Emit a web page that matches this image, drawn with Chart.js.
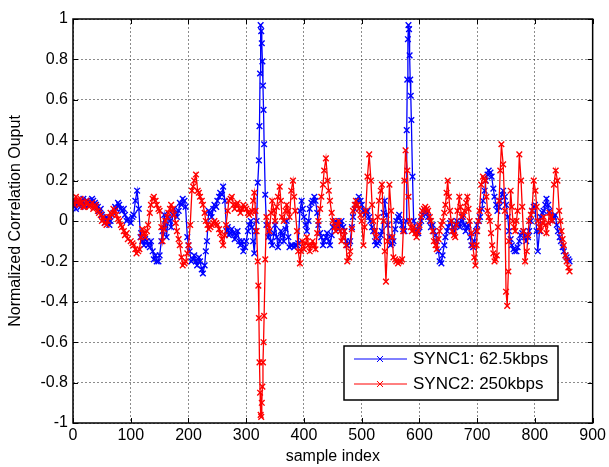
<!DOCTYPE html>
<html>
<head>
<meta charset="utf-8">
<script src="https://cdn.jsdelivr.net/npm/chart.js@4.4.1/dist/chart.umd.min.js"></script>
<style>
  html, body { margin: 0; padding: 0; background: #fff; }
  canvas { display: block; }
</style>
</head>
<body>
<canvas id="chart" width="609" height="467"></canvas>
<script>
// ---------------- data ([sample index, value])

var sync1Label = "SYNC1: 62.5kbps";
var sync2Label = "SYNC2: 250kbps";

var sync1 = [
  [0,0.08],[3,0.1],[5,0.06],[8,0.09],[10,0.09],[13,0.07],[15,0.1],[18,0.11],[20,0.08],[23,0.1],[25,0.1],[28,0.08],[30,0.09],[33,0.11],[35,0.1],[38,0.09],[40,0.08],[43,0.07],[45,0.05],
  [48,0.06],[50,0.03],[53,0.01],[55,-0.01],[58,0.02],[60,0.01],[63,-0.02],[65,0.0],[68,0.03],[70,0.04],[73,0.07],[75,0.06],[78,0.09],[80,0.08],[83,0.06],[85,0.05],[88,0.06],[90,0.03],[93,0.0],[95,0.01],
  [100,-0.01],[103,0.02],[105,0.03],[108,0.1],[111,0.15],[114,0.06],[117,-0.08],[118,-0.06],[120,-0.1],[123,-0.12],[125,-0.09],[128,-0.1],[130,-0.12],[133,-0.13],[135,-0.1],[138,-0.15],
  [140,-0.19],[143,-0.17],[145,-0.2],[148,-0.2],[150,-0.17],[153,-0.1],[155,-0.05],[158,0.03],[160,-0.02],[162,-0.08],[165,0.02],[168,0.0],[170,-0.03],[173,0.03],[175,0.06],[178,0.04],
  [180,0.02],[183,0.05],[185,0.09],[188,0.08],[190,0.11],[193,0.1],[195,0.07],[198,-0.08],[200,-0.12],[202,-0.15],[205,-0.2],[208,-0.19],[210,-0.17],[213,-0.2],[215,-0.22],[218,-0.18],
  [220,-0.2],[223,-0.24],[225,-0.26],[228,-0.22],[230,-0.15],[232,-0.1],[235,0.05],[238,0.04],[240,0.02],[243,0.06],[245,0.08],[248,0.07],[250,0.1],[253,0.12],[255,0.14],[258,0.13],
  [260,0.17],[263,0.1],[266,-0.05],[268,-0.03],[270,-0.07],[273,-0.06],[275,-0.04],[278,-0.06],[280,-0.09],[283,-0.07],[285,-0.05],[288,-0.1],[290,-0.12],[293,-0.1],[295,-0.15],[298,-0.13],
  [300,-0.1],[303,-0.05],[305,-0.02],[308,0.0],[310,-0.03],[312,-0.1],[314,-0.16],[316,-0.05],
  [318,0.0],[320,0.19],[322,0.3],[323,0.47],[324,0.73],[325,0.97],[326,0.94],[327,0.88],[328,0.79],[329,0.67],
  [330,0.55],[331,0.38],[333,0.13],
  [335,-0.02],[338,-0.08],[340,-0.05],[343,-0.1],[345,-0.12],[348,-0.06],[350,-0.02],[353,-0.08],[355,-0.13],[358,-0.1],[360,-0.05],[363,-0.07],[365,-0.1],[368,-0.04],
  [370,0.0],[373,-0.08],[375,-0.13],[378,-0.12],[380,-0.12],[383,-0.13],[385,-0.12],[388,-0.12],[390,-0.11],[393,0.05],[396,0.1],[398,0.06],[400,0.02],[403,-0.02],[405,-0.05],[408,0.0],
  [410,0.06],[413,0.09],[415,0.1],[418,0.12],[420,0.1],[423,0.04],[425,-0.02],[428,-0.06],[430,-0.08],[433,-0.12],[435,-0.1],[438,-0.08],[440,-0.06],[443,-0.1],[445,-0.12],[448,-0.07],
  [450,-0.03],[453,-0.01],[455,0.0],[458,-0.02],[460,-0.04],[463,-0.02],[465,0.0],[468,-0.03],[470,-0.05],[473,-0.1],[475,-0.12],[478,-0.11],[480,-0.1],[483,-0.03],[485,0.02],[488,0.06],
  [490,0.08],[493,0.1],[495,0.12],[498,0.1],[500,0.08],[503,0.05],[505,0.03],[508,0.04],[510,0.05],[513,0.02],[515,0.0],[518,-0.03],[520,-0.05],[523,-0.1],[525,-0.12],[528,-0.11],
  [530,-0.1],[533,-0.07],[535,-0.05],[538,0.04],[540,0.1],[543,0.03],[545,-0.02],[548,-0.08],[550,-0.12],[553,-0.11],[555,-0.1],[558,-0.04],[560,0.0],[563,0.02],[565,0.03],[568,0.0],
  [570,-0.02],[572,-0.04],[574,-0.05],[577,0.0],
  [578,0.45],[579,0.7],[580,0.9],[581,0.97],[582,0.95],[583,0.82],[584,0.7],[585,0.62],[586,0.5],[588,0.22],
  [590,0.0],[593,-0.04],[595,-0.05],[598,-0.06],[600,-0.03],[603,0.0],[605,0.03],[608,0.04],[610,0.05],[613,0.04],[615,0.02],[618,0.0],[620,-0.03],[623,-0.02],[625,-0.05],[628,-0.07],
  [630,-0.1],[633,-0.15],[635,-0.2],[638,-0.21],[640,-0.17],[643,-0.12],[645,-0.08],[648,-0.05],[650,-0.03],[653,-0.01],[655,0.0],[658,-0.03],[660,-0.05],[663,-0.02],[665,0.0],[668,-0.01],
  [670,-0.03],[673,0.0],[675,0.02],[678,-0.02],[680,-0.05],[683,-0.03],[685,-0.02],[688,-0.08],[690,-0.12],[693,-0.13],[695,-0.1],[698,-0.05],[700,-0.02],[703,0.0],[705,0.02],[708,0.06],
  [710,0.1],[713,0.15],[715,0.2],[718,0.23],[720,0.25],[723,0.24],[725,0.22],[728,0.16],[730,0.12],[733,0.08],[735,0.05],[738,0.07],[740,0.1],[743,0.13],[745,0.15],[748,0.12],
  [750,0.08],[753,0.02],[755,-0.05],[758,-0.09],[760,-0.12],[763,-0.14],[765,-0.15],[768,-0.15],[770,-0.13],[773,-0.1],[775,-0.07],[778,-0.06],[780,-0.05],[783,-0.08],[785,-0.1],[788,-0.08],
  [790,-0.05],[793,0.0],[795,0.05],[798,0.07],[800,0.08],[803,-0.05],[805,-0.15],[808,-0.05],[810,0.02],[813,0.04],[815,0.05],[818,0.08],[820,0.11],[823,0.08],[825,0.05],[828,0.02],
  [830,0.0],[833,0.02],[835,0.03],[838,-0.02],[840,-0.05],[843,-0.08],[845,-0.1],[848,-0.13],[850,-0.15],[853,-0.17],[855,-0.18],[858,-0.19],[860,-0.2]
];

var sync2 = [
  [0,0.1],[3,0.08],[5,0.12],[8,0.1],[10,0.08],[13,0.11],[15,0.09],[18,0.07],[20,0.07],[23,0.1],[25,0.09],[28,0.07],[30,0.08],[33,0.09],[35,0.06],[38,0.08],[40,0.07],[43,0.05],[45,0.04],
  [48,0.03],[50,0.0],[53,0.02],[55,-0.01],[58,-0.02],[60,0.0],[63,0.02],[65,0.04],[68,0.03],[70,0.06],[73,0.05],[75,0.03],[78,0.01],[80,0.0],[83,-0.02],[85,-0.03],[88,-0.05],[90,-0.07],[93,-0.06],[95,-0.09],
  [100,-0.1],[103,-0.11],[105,-0.12],[108,-0.14],[110,-0.16],[113,-0.15],[115,-0.14],[118,-0.08],[120,-0.04],[123,-0.06],[125,-0.08],[128,-0.05],[130,-0.02],[133,0.04],[135,0.08],[138,0.11],
  [140,0.12],[143,0.1],[145,0.08],[148,0.06],[150,0.05],[153,-0.03],[155,-0.1],[158,-0.04],[160,0.0],[163,0.02],[165,0.04],[168,0.06],[170,0.08],[173,0.06],[175,0.03],[178,-0.01],
  [180,-0.05],[183,-0.09],[185,-0.12],[188,-0.18],[190,-0.22],[193,-0.21],[195,-0.2],[198,-0.16],[200,-0.12],[203,-0.02],[206,0.15],[208,0.17],[210,0.2],[213,0.23],[216,0.15],[218,0.14],
  [220,0.12],[223,0.1],[225,0.08],[228,0.04],[230,0.0],[233,-0.02],[235,-0.04],[238,-0.03],[240,-0.02],[243,-0.01],[245,0.0],[248,-0.01],[250,-0.02],[253,-0.04],[255,-0.06],[258,-0.09],
  [260,-0.12],[263,-0.07],[265,-0.02],[268,0.05],[270,0.1],[273,0.11],[275,0.12],[278,0.08],[280,0.06],[283,0.08],[285,0.09],[288,0.06],[290,0.04],[293,0.06],[295,0.08],[298,0.07],
  [300,0.06],[303,0.04],[305,0.03],[308,0.04],[310,0.05],[312,0.1],[314,0.14],[316,0.05],
  [318,-0.05],[320,-0.2],[321,-0.32],[322,-0.48],[323,-0.7],[324,-0.85],[325,-0.96],[326,-0.97],[327,-0.9],[328,-0.82],
  [329,-0.7],[330,-0.6],[331,-0.47],[333,-0.19],
  [335,0.02],[338,-0.02],[340,-0.05],[343,0.04],[345,0.1],[348,0.05],[350,0.0],[353,0.07],[355,0.12],[358,0.17],[360,0.1],[362,0.02],[365,0.0],[368,0.05],
  [370,0.08],[373,0.05],[375,0.02],[378,0.15],[381,0.2],[383,0.12],[385,0.05],[388,-0.05],[390,-0.15],[393,-0.21],[395,-0.15],[397,-0.1],[400,-0.14],[403,-0.11],[405,-0.08],[408,-0.12],
  [410,-0.15],[413,-0.12],[415,-0.1],[418,-0.12],[420,-0.14],[423,-0.06],[425,0.0],[428,0.06],[430,0.12],[433,0.18],[435,0.25],[438,0.31],[441,0.2],[443,0.15],[445,0.1],[448,0.04],
  [450,0.0],[453,-0.03],[455,-0.05],[458,-0.02],[460,0.0],[463,-0.05],[465,-0.1],[468,-0.08],[470,-0.05],[473,-0.12],[475,-0.2],[478,-0.18],[480,-0.15],[483,-0.04],[485,0.05],[488,0.08],
  [490,0.1],[493,0.08],[495,0.06],[498,0.03],[500,0.0],[503,-0.12],[505,-0.03],[507,0.05],[510,0.22],[513,0.33],[516,0.2],[518,0.08],[520,0.0],[523,-0.05],[525,-0.08],[528,0.02],
  [530,0.1],[533,0.15],[535,0.18],[538,0.0],[540,-0.15],[542,-0.3],[545,-0.1],[548,0.18],[551,0.05],[553,-0.08],[555,-0.18],[558,-0.19],[560,-0.2],[563,-0.21],[565,-0.2],[568,-0.2],
  [570,-0.19],[572,-0.05],[574,0.2],[576,0.35],[579,0.25],[581,0.12],[583,0.0],[585,-0.03],[587,-0.05],
  [590,-0.03],[593,-0.06],[595,-0.08],[598,-0.05],[600,-0.02],[603,0.02],[605,0.05],[608,0.06],[610,0.07],[613,0.06],[615,0.05],[618,0.02],[620,0.0],[623,-0.05],[625,-0.1],[628,-0.12],
  [630,-0.14],[633,-0.09],[635,-0.05],[638,-0.02],[640,0.0],[643,0.04],[645,0.08],[647,0.14],[649,0.2],[651,0.12],[653,0.05],[655,0.0],[657,-0.05],[660,-0.07],[662,-0.08],[664,-0.02],
  [666,0.05],[669,0.12],[671,0.07],[673,0.02],[676,0.03],[678,0.05],[681,0.09],[683,0.12],[685,0.06],[687,0.0],[690,-0.06],[692,-0.12],[695,-0.18],[697,-0.22],[699,-0.12],
  [700,-0.05],[702,0.0],[704,0.05],[707,0.18],[710,0.22],[712,0.21],[714,0.2],[716,0.12],[718,0.05],[720,0.02],[722,0.0],[724,-0.06],[726,-0.12],[728,-0.16],[730,-0.2],[732,-0.19],
  [734,-0.17],[736,-0.03],[738,0.1],[740,0.25],[742,0.38],[745,0.28],[748,0.05],[750,-0.35],[752,-0.42],[754,-0.25],[755,-0.1],[758,0.15],[760,0.07],[762,0.0],[764,-0.03],[766,-0.05],
  [768,0.0],[770,0.05],[773,0.33],[776,0.2],[778,0.07],[780,-0.05],[783,-0.2],[786,-0.15],[788,-0.07],[790,0.0],[793,0.03],[795,0.05],[798,0.2],[801,0.15],[803,0.07],[805,0.0],
  [808,-0.03],[810,-0.05],[813,-0.01],[815,0.02],[818,-0.02],[820,-0.06],[823,-0.01],[825,0.04],[828,0.02],[830,0.0],[833,0.18],[836,0.25],[839,0.2],[842,0.05],[844,0.0],[846,-0.05],
  [848,-0.09],[850,-0.12],[853,-0.17],[855,-0.2],[858,-0.23],[860,-0.25]
];

// ---------------- helpers

var FONT = "'Liberation Sans', Arial, sans-serif";

function toPoints(arr) {
  return arr.map(function (p) { return { x: p[0], y: p[1] }; });
}

// axes box, inward tick marks and the legend box (MATLAB look)
var matlabBox = {
  id: 'matlabBox',
  afterDraw: function (chart) {
    var ctx = chart.ctx, a = chart.chartArea;
    var sx = chart.scales.x, sy = chart.scales.y;
    ctx.save();

    ctx.strokeStyle = '#000';
    ctx.lineWidth = 1;
    ctx.beginPath();
    sx.ticks.forEach(function (t) {
      var px = Math.round(sx.getPixelForValue(t.value)) + 0.5;
      ctx.moveTo(px, a.bottom); ctx.lineTo(px, a.bottom - 5);
      ctx.moveTo(px, a.top); ctx.lineTo(px, a.top + 5);
    });
    sy.ticks.forEach(function (t) {
      var py = Math.round(sy.getPixelForValue(t.value)) + 0.5;
      ctx.moveTo(a.left, py); ctx.lineTo(a.left + 5, py);
      ctx.moveTo(a.right, py); ctx.lineTo(a.right - 5, py);
    });
    ctx.stroke();

    ctx.lineWidth = 1.5;
    ctx.strokeRect(a.left, a.top, a.right - a.left, a.bottom - a.top);

    // legend
    var lx = 344, ly = 346, lw = 214, lh = 54;
    ctx.fillStyle = '#fff';
    ctx.fillRect(lx, ly, lw, lh);
    ctx.lineWidth = 1.5;
    ctx.strokeRect(lx, ly, lw, lh);

    chart.data.datasets.slice().sort(function (p, q) { return p.legendRow - q.legendRow; })
      .forEach(function (ds, i) {
        var yy = ly + 13 + i * 25;
        ctx.strokeStyle = ds.borderColor;
        ctx.lineWidth = 1;
        ctx.beginPath();
        ctx.moveTo(354, yy); ctx.lineTo(407, yy);
        ctx.moveTo(377, yy - 3); ctx.lineTo(383, yy + 3);
        ctx.moveTo(377, yy + 3); ctx.lineTo(383, yy - 3);
        ctx.stroke();
        ctx.fillStyle = '#000';
        ctx.font = '17px ' + FONT;
        ctx.textBaseline = 'middle';
        ctx.textAlign = 'left';
        ctx.fillText(ds.label, 413, yy);
      });

    ctx.restore();
  }
};

// ---------------- chart

var ctx = document.getElementById('chart').getContext('2d');

var chart = new Chart(ctx, {
  type: 'line',
  data: {
    datasets: [{
      label: sync1Label,
      legendRow: 0,
      order: 2,
      data: toPoints(sync1),
      borderColor: '#0000ff',
      backgroundColor: '#0000ff',
      borderWidth: 1.3,
      pointStyle: 'crossRot',
      pointRadius: 4,
      pointBorderWidth: 1.4,
      pointBorderColor: '#0000ff',
      tension: 0,
      fill: false
    }, {
      label: sync2Label,
      legendRow: 1,
      order: 1,
      data: toPoints(sync2),
      borderColor: '#ff0000',
      backgroundColor: '#ff0000',
      borderWidth: 1.3,
      pointStyle: 'crossRot',
      pointRadius: 4,
      pointBorderWidth: 1.4,
      pointBorderColor: '#ff0000',
      tension: 0,
      fill: false
    }]
  },
  options: {
    responsive: false,
    animation: false,
    events: [],
    layout: { padding: { top: 19, right: 16, left: 0, bottom: 0 } },
    plugins: {
      legend: { display: false },
      tooltip: { enabled: false }
    },
    scales: {
      x: {
        type: 'linear',
        min: 0,
        max: 900,
        afterFit: function (s) { s.height = 44; },
        ticks: {
          stepSize: 100,
          padding: 3,
          maxRotation: 0,
          color: '#000',
          font: { family: FONT, size: 16 }
        },
        grid: { color: 'rgba(0,0,0,0.45)', lineWidth: 1, drawTicks: false },
        border: { display: false, dash: [2, 2] },
        title: {
          display: true,
          text: 'sample index',
          color: '#000',
          font: { family: FONT, size: 16 },
          padding: { top: 0, bottom: 1 }
        }
      },
      y: {
        min: -1,
        max: 1,
        afterFit: function (s) { s.width = 73; },
        ticks: {
          stepSize: 0.2,
          padding: 5,
          color: '#000',
          font: { family: FONT, size: 16 },
          callback: function (v) { return String(Math.round(v * 10) / 10); }
        },
        grid: { color: 'rgba(0,0,0,0.45)', lineWidth: 1, drawTicks: false },
        border: { display: false, dash: [2, 2] },
        title: {
          display: true,
          text: 'Normalized Correlation Ouput',
          color: '#000',
          font: { family: FONT, size: 16 },
          padding: { top: 6, bottom: 0 }
        }
      }
    }
  },
  plugins: [matlabBox]
});
</script>
</body>
</html>
